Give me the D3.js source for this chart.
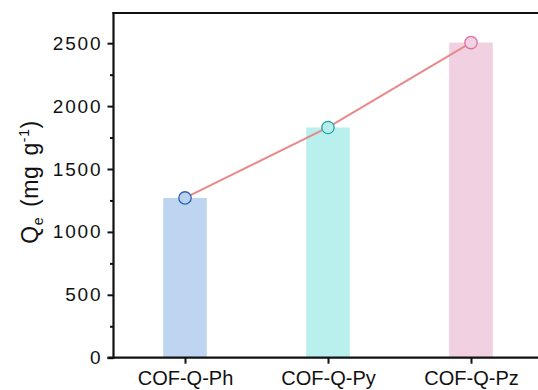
<!DOCTYPE html>
<html>
<head>
<meta charset="utf-8">
<script src="https://cdn.jsdelivr.net/npm/d3@7"></script>
<style>
  html, body { margin: 0; padding: 0; background: #fff; }
  svg { display: block; }
  text { font-family: "Liberation Sans", Arial, sans-serif; fill: #111; }
</style>
</head>
<body>
<svg id="chart" width="538" height="390"></svg>
<script>
// Equilibrium adsorption capacity of the three COF samples
const categories = ["COF-Q-Ph", "COF-Q-Py", "COF-Q-Pz"];
const capacity = [1270, 1830, 2505];
const barColors = ["#bdd5f0", "#b9f0ee", "#f1d1e1"];
const markerStroke = ["#2e62b3", "#25a3a0", "#dc70a2"];
const markerFill = ["#bcd3ef", "#b6eeec", "#f3d2e2"];
const yTicks = [0, 500, 1000, 1500, 2000, 2500];
const yMinorTicks = [250, 750, 1250, 1750, 2250];

const svg = d3.select("#chart");
const plotLeft = 113.5, plotRight = 542.5, plotTop = 13, plotBottom = 357.7;

const x = d3.scalePoint().domain(categories).range([plotLeft, plotRight]).padding(0.5);
const barW = x.step() * 0.305;
const y = d3.scaleLinear().domain([0, 2740]).range([plotBottom, plotTop]);

// bars
svg.append("g").selectAll("rect")
  .data(categories)
  .join("rect")
  .attr("x", d => x(d) - barW / 2)
  .attr("width", barW)
  .attr("y", (d, i) => y(capacity[i]))
  .attr("height", (d, i) => plotBottom - y(capacity[i]))
  .attr("fill", (d, i) => barColors[i]);

// connecting line
const line = d3.line().x(d => x(d[0])).y(d => y(d[1]));
svg.append("path")
  .datum(categories.map((c, i) => [c, capacity[i]]))
  .attr("d", line)
  .attr("fill", "none")
  .attr("stroke", "#e8898a")
  .attr("stroke-width", 2);

// markers
svg.append("g").selectAll("circle")
  .data(categories)
  .join("circle")
  .attr("cx", d => x(d))
  .attr("cy", (d, i) => y(capacity[i]))
  .attr("r", 6.2)
  .attr("fill", (d, i) => markerFill[i])
  .attr("stroke", (d, i) => markerStroke[i])
  .attr("stroke-width", 1.3);

// y axis
const yAxis = d3.axisLeft(y).tickValues(yTicks).tickFormat(d3.format("d"))
  .tickSize(6).tickPadding(7).tickSizeOuter(0);
const gy = svg.append("g").attr("transform", `translate(${plotLeft},0)`).call(yAxis);
gy.select(".domain").remove();
gy.selectAll(".tick line").attr("stroke", "#111").attr("stroke-width", 2);
gy.selectAll(".tick text")
  .style("font-family", "'Liberation Sans', Arial, sans-serif")
  .style("font-size", "19px")
  .style("letter-spacing", "1.8px")
  .attr("fill", "#111")
  .attr("dx", "1.8px");
const gyMinor = svg.append("g").attr("transform", `translate(${plotLeft},0)`)
  .call(d3.axisLeft(y).tickValues(yMinorTicks).tickSize(3.5).tickFormat(""));
gyMinor.select(".domain").remove();
gyMinor.selectAll(".tick line").attr("stroke", "#111").attr("stroke-width", 2);

// x axis
const xAxis = d3.axisBottom(x).tickSize(6).tickPadding(7).tickSizeOuter(0);
const gx = svg.append("g").attr("transform", `translate(0,${plotBottom})`).call(xAxis);
gx.select(".domain").remove();
gx.selectAll(".tick line").attr("stroke", "#111").attr("stroke-width", 2);
gx.selectAll(".tick text")
  .style("font-family", "'Liberation Sans', Arial, sans-serif")
  .style("font-size", "20px")
  .attr("fill", "#111")
  .attr("dy", "0.7em");

// frame
svg.append("line").attr("x1", plotLeft - 6).attr("x2", plotRight).attr("y1", plotBottom).attr("y2", plotBottom)
  .attr("stroke", "#111").attr("stroke-width", 2.2);
svg.append("line").attr("x1", plotLeft).attr("x2", plotLeft).attr("y1", plotTop - 1).attr("y2", plotBottom + 1)
  .attr("stroke", "#111").attr("stroke-width", 2.2);
svg.append("line").attr("x1", plotLeft - 1).attr("x2", plotRight).attr("y1", plotTop).attr("y2", plotTop)
  .attr("stroke", "#111").attr("stroke-width", 2.2);

// y title
const title = svg.append("text")
  .attr("transform", "translate(38,182) rotate(-90)")
  .attr("text-anchor", "middle")
  .style("font-size", "23px")
  .style("letter-spacing", "0.6px")
  .style("word-spacing", "3px");
title.append("tspan").text("Q");
title.append("tspan").attr("dy", 5).style("font-size", "14px").text("e");
title.append("tspan").attr("dy", -5).text(" (mg g");
title.append("tspan").attr("dy", -9).style("font-size", "14px").text("-1");
title.append("tspan").attr("dy", 9).text(")");
</script>
</body>
</html>
